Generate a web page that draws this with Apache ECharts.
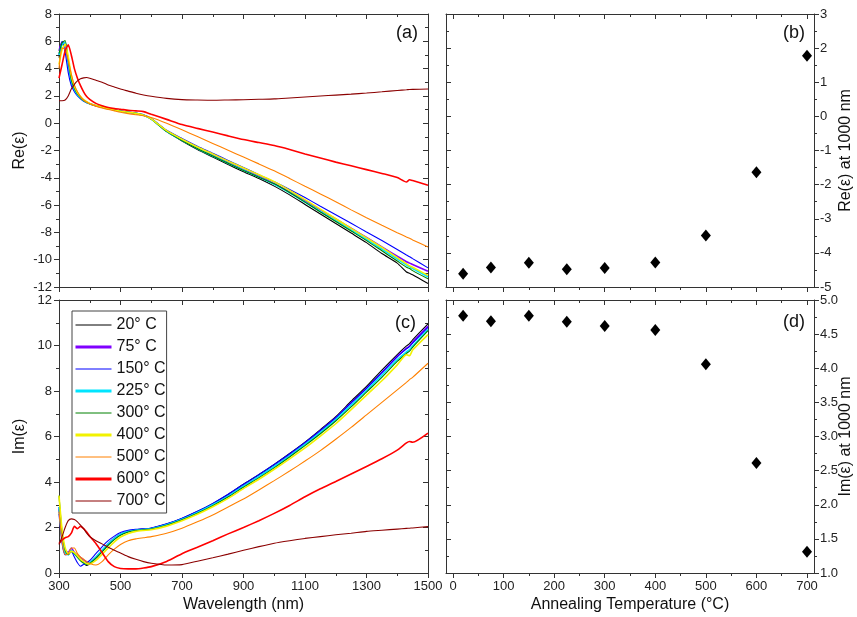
<!DOCTYPE html>
<html><head><meta charset="utf-8">
<script src="https://cdn.jsdelivr.net/npm/echarts@6/dist/echarts.min.js"></script>
<style>html,body{margin:0;padding:0;background:#fff}#c{width:857px;height:617px}</style>
</head><body><div id="c"></div>
<script>
// ---------------- DATA ----------------
const wavelength = [300,310,320,330,340,350,360,370,380,390,400,420,440,460,480,500,525,550,575,600,650,700,750,800,850,900,950,1000,1050,1100,1150,1200,1250,1300,1350,1400,1430,1440,1450,1500];

const seriesNames = ['20° C','75° C','150° C','225° C','300° C','400° C','500° C','600° C','700° C'];

// Re(eps) vs wavelength
const re20  = [4.8,5.8,5.85,4.3,3.1,2.5,2.1,1.85,1.65,1.52,1.42, 1.28,1.17,1.07,0.97,0.88, 0.8,0.72,0.58,0.3, -0.62,-1.3,-1.92,-2.48,-3.03,-3.55,-4.05,-4.61,-5.25,-5.95,-6.65,-7.35,-8.05,-8.75,-9.55,-10.25, -10.9,-11.0,-11.1,-11.75];
const re75  = [5.3,5.95,5.8,4.2,3.0,2.45,2.1,1.85,1.66,1.53,1.43, 1.28,1.17,1.07,0.97,0.88, 0.8,0.72,0.58,0.32, -0.57,-1.22,-1.81,-2.35,-2.88,-3.4,-3.9,-4.43,-5.03,-5.68,-6.35,-7.02,-7.7,-8.37,-9.07,-9.75, -10.15,-10.25,-10.35,-10.85];
const re150 = [5.0,6.0,5.2,3.7,2.75,2.3,2.0,1.78,1.6,1.5,1.42, 1.28,1.17,1.08,0.98,0.9, 0.82,0.74,0.62,0.35, -0.52,-1.12,-1.68,-2.2,-2.73,-3.25,-3.77,-4.29,-4.85,-5.45,-6.08,-6.7,-7.33,-7.97,-8.6,-9.25, -9.65,-9.78,-9.92,-10.6];
const re225 = [5.0,5.8,5.9,4.4,3.1,2.5,2.1,1.85,1.65,1.52,1.42, 1.28,1.17,1.07,0.97,0.88, 0.8,0.72,0.58,0.3, -0.6,-1.26,-1.85,-2.4,-2.93,-3.45,-3.95,-4.48,-5.1,-5.78,-6.47,-7.15,-7.83,-8.52,-9.22,-9.95, -10.4,-10.52,-10.65,-11.25];
const re300 = [5.1,5.9,6.05,4.6,3.2,2.55,2.15,1.87,1.66,1.53,1.43, 1.28,1.17,1.07,0.97,0.88, 0.8,0.72,0.58,0.3, -0.6,-1.27,-1.86,-2.41,-2.94,-3.46,-3.96,-4.44,-5.08,-5.78,-6.5,-7.2,-7.9,-8.6,-9.35,-10.1, -10.55,-10.65,-10.8,-11.4];
const re400 = [4.3,5.4,5.8,4.9,3.5,2.7,2.25,1.95,1.72,1.57,1.45, 1.3,1.18,1.08,0.98,0.88, 0.8,0.72,0.58,0.32, -0.55,-1.17,-1.74,-2.26,-2.78,-3.28,-3.78,-4.28,-4.92,-5.6,-6.3,-7.0,-7.7,-8.4,-9.1,-9.85, -10.3,-10.45,-10.55,-11.15];
const re500 = [4.0,5.5,5.4,4.6,3.6,2.8,2.3,1.95,1.7,1.55,1.42, 1.25,1.12,1.0,0.9,0.8, 0.7,0.62,0.55,0.42, 0.0,-0.48,-0.98,-1.48,-1.98,-2.48,-2.98,-3.49,-4.05,-4.62,-5.18,-5.75,-6.35,-6.92,-7.48,-8.02, -8.33,-8.43,-8.55,-9.07];
const re600 = [3.3,4.3,5.3,5.75,5.0,4.0,3.3,2.75,2.3,1.95,1.75, 1.45,1.28,1.15,1.07,1.02, 0.95,0.9,0.85,0.65, 0.28,-0.1,-0.38,-0.65,-0.93,-1.2,-1.42,-1.64,-1.93,-2.25,-2.55,-2.85,-3.12,-3.4,-3.68,-3.98, -4.31,-4.14,-4.2,-4.55];
const re700 = [1.65,1.65,1.7,2.0,2.5,2.85,3.1,3.25,3.32,3.35,3.3, 3.15,3.0,2.8,2.65,2.5, 2.35,2.2,2.07,1.97, 1.82,1.73,1.7,1.68,1.7,1.72,1.75,1.78,1.85,1.92,1.99,2.06,2.13,2.21,2.3,2.4, 2.45,2.47,2.48,2.5];

// Im(eps) vs wavelength
const im20  = [2.8,1.5,0.9,0.8,1.0,0.85,0.7,0.55,0.42,0.33,0.4, 0.65,0.95,1.25,1.5,1.7, 1.83,1.9,1.93,1.97, 2.15,2.4,2.7,3.05,3.45,3.9,4.32,4.77,5.25,5.75,6.3,6.87,7.55,8.2,8.92,9.6, 9.98,10.08,10.25,10.95];
const im75  = [2.9,1.6,1.0,0.9,1.1,0.9,0.78,0.68,0.58,0.48,0.45, 0.68,0.98,1.28,1.53,1.71, 1.83,1.89,1.92,1.95, 2.12,2.37,2.66,3.0,3.4,3.84,4.25,4.69,5.18,5.7,6.25,6.82,7.48,8.12,8.8,9.52, 9.88,9.98,10.15,10.85];
const im150 = [2.6,1.3,0.8,0.85,0.95,0.7,0.45,0.3,0.38,0.45,0.55, 0.85,1.15,1.42,1.62,1.78, 1.88,1.92,1.94,1.98, 2.16,2.41,2.71,3.06,3.46,3.9,4.33,4.77,5.24,5.74,6.27,6.83,7.48,8.12,8.82,9.5, 9.85,9.95,10.1,10.8];
const im225 = [2.9,1.5,0.9,0.8,1.0,0.85,0.7,0.55,0.45,0.4,0.45, 0.7,1.0,1.28,1.52,1.7, 1.82,1.88,1.91,1.94, 2.12,2.36,2.66,3.0,3.38,3.82,4.24,4.68,5.15,5.65,6.18,6.74,7.38,8.02,8.7,9.38, 9.72,9.82,9.98,10.7];
const im300 = [3.4,1.8,1.0,0.8,0.95,0.85,0.7,0.55,0.45,0.38,0.42, 0.65,0.93,1.22,1.47,1.66, 1.8,1.87,1.9,1.93, 2.1,2.34,2.63,2.96,3.34,3.77,4.18,4.62,5.1,5.6,6.12,6.68,7.3,7.95,8.6,9.3, 9.65,9.75,9.92,10.65];
const im400 = [3.4,1.9,1.1,0.85,0.95,0.9,0.75,0.6,0.5,0.42,0.4, 0.55,0.82,1.1,1.37,1.58, 1.74,1.83,1.87,1.9, 2.06,2.3,2.58,2.91,3.28,3.71,4.12,4.56,5.02,5.5,6.02,6.56,7.18,7.82,8.45,9.15, 9.6,9.55,9.8,10.48];
const im500 = [2.7,1.4,0.8,0.85,1.1,1.1,0.85,0.7,0.6,0.5,0.42, 0.35,0.5,0.8,1.05,1.25, 1.42,1.5,1.55,1.6, 1.75,1.97,2.25,2.55,2.9,3.25,3.65,4.06,4.48,4.92,5.38,5.88,6.4,6.95,7.5,8.05, 8.38,8.5,8.6,9.22];
const im600 = [1.3,1.45,1.55,1.6,1.75,2.05,1.95,2.05,1.95,1.8,1.62, 1.3,0.9,0.5,0.28,0.2, 0.18,0.18,0.22,0.28, 0.51,0.85,1.13,1.42,1.72,2.0,2.3,2.62,2.97,3.35,3.7,4.02,4.35,4.68,5.02,5.4, 5.72,5.78,5.75,6.15];
const im700 = [1.25,1.6,2.0,2.3,2.38,2.35,2.25,2.1,1.95,1.75,1.6, 1.42,1.28,1.13,1.0,0.88, 0.72,0.6,0.5,0.43, 0.35,0.37,0.52,0.67,0.83,1.0,1.16,1.31,1.42,1.52,1.6,1.68,1.75,1.83,1.88,1.93, 1.96,1.97,1.98,2.04];

// Values at 1000 nm vs annealing temperature
const temps     = [20,75,150,225,300,400,500,600,700];
const reAt1000  = [-4.61,-4.43,-4.29,-4.48,-4.44,-4.28,-3.49,-1.64,1.78];
const imAt1000  = [4.77,4.69,4.77,4.68,4.62,4.56,4.06,2.61,1.31];

// ---------------- STYLE ----------------
const reList = [re20,re75,re150,re225,re300,re400,re500,re600,re700];
const imList = [im20,im75,im150,im225,im300,im400,im500,im600,im700];
const colors = ['#000000','#8000ff','#0000ff','#00e5ff','#008000','#f2f200','#ff8000','#ff0000','#8b0000'];
const thick  = [false,true,false,true,false,true,false,true,false];
const FONT = '"Liberation Sans", Arial, sans-serif';
const LINE = '#333';

function axis(gridIndex, position, min, max, interval, o) {
  o = o || {};
  const a = {
    type: 'value', gridIndex, position, min, max, interval,
    show: !o.hidden,
    splitLine: { show: false },
    minorSplitLine: { show: false },
    axisLine: { show: o.line !== false, onZero: false, lineStyle: { color: LINE, width: 1 } },
    axisTick: { show: !!o.ticks, inside: !!o.inside, length: 5, lineStyle: { color: LINE, width: 1 } },
    minorTick: { show: !!o.ticks, splitNumber: 2, length: 3, lineStyle: { color: LINE, width: 1 } },
    axisLabel: { show: !!o.labels, margin: o.margin || 7, fontSize: 13, color: '#222', fontFamily: FONT,
                 formatter: o.formatter || (v => String(v)) },
    nameMoveOverlap: false
  };
  if (o.name) {
    a.name = o.name;
    a.nameLocation = 'middle';
    a.nameGap = o.nameGap;
    if (o.rot) a.nameRotate = 90;
    a.nameTextStyle = { fontSize: 16, color: '#111', fontFamily: FONT };
  }
  return a;
}

const grid = [
  { left: 59,  top: 14,  width: 369, height: 273 },
  { left: 446, top: 14,  width: 368, height: 273 },
  { left: 453, top: 14,  width: 354, height: 273 },
  { left: 59,  top: 300, width: 369, height: 273 },
  { left: 446, top: 300, width: 368, height: 273 },
  { left: 453, top: 300, width: 354, height: 273 }
].map(g => Object.assign({ containLabel: false, outerBoundsMode: 'none', show: false }, g));

const xAxis = [
  axis(0, 'bottom', 300, 1500, 200, { ticks: true }),
  axis(0, 'top', 300, 1500, 200, { ticks: true, inside: true }),
  axis(1, 'bottom', 0, 1, null, {}),
  axis(1, 'top', 0, 1, null, {}),
  axis(2, 'bottom', 0, 700, 100, { line: false, ticks: true }),
  axis(2, 'top', 0, 700, 100, { line: false, ticks: true, inside: true }),
  axis(3, 'bottom', 300, 1500, 200, { ticks: true, labels: true, name: 'Wavelength (nm)', nameGap: 24 }),
  axis(3, 'top', 300, 1500, 200, { ticks: true, inside: true }),
  axis(4, 'bottom', 0, 1, null, {}),
  axis(4, 'top', 0, 1, null, {}),
  axis(5, 'bottom', 0, 700, 100, { line: false, ticks: true, labels: true, name: 'Annealing Temperature (°C)', nameGap: 24 }),
  axis(5, 'top', 0, 700, 100, { line: false, ticks: true, inside: true })
];
const yAxis = [
  axis(0, 'left', -12, 8, 2, { ticks: true, labels: true, name: 'Re(ε)', nameGap: 31, rot: true }),
  axis(0, 'right', -12, 8, 2, { ticks: true, inside: true }),
  axis(1, 'left', -5, 3, 1, { ticks: true, inside: true }),
  axis(1, 'right', -5, 3, 1, { ticks: true, labels: true, margin: 6, name: 'Re(ε) at 1000 nm', nameGap: 24, rot: true }),
  axis(2, 'left', -5, 3, 1, { hidden: true }),
  axis(3, 'left', 0, 12, 2, { ticks: true, labels: true, name: 'Im(ε)', nameGap: 31, rot: true }),
  axis(3, 'right', 0, 12, 2, { ticks: true, inside: true }),
  axis(4, 'left', 1, 5, 0.5, { ticks: true, inside: true }),
  axis(4, 'right', 1, 5, 0.5, { ticks: true, labels: true, margin: 6, formatter: v => v.toFixed(1), name: 'Im(ε) at 1000 nm', nameGap: 24, rot: true }),
  axis(5, 'left', 1, 5, 0.5, { hidden: true })
];

const series = [];
seriesNames.forEach((name, i) => {
  const common = {
    type: 'line', name, symbol: 'none', showSymbol: false, smooth: 0.2,
    lineStyle: { color: colors[i], width: thick[i] ? 1.6 : 1.1 },
    itemStyle: { color: colors[i] }, emphasis: { disabled: true }, z: 2 + i
  };
  series.push(Object.assign({}, common, { xAxisIndex: 0, yAxisIndex: 0, data: wavelength.map((w, k) => [w, reList[i][k]]) }));
  series.push(Object.assign({}, common, { xAxisIndex: 6, yAxisIndex: 5, data: wavelength.map((w, k) => [w, imList[i][k]]) }));
});
series.push({ type: 'scatter', xAxisIndex: 4, yAxisIndex: 4, symbol: 'diamond', symbolSize: [10, 12], clip: false,
  itemStyle: { color: '#000', opacity: 1 }, emphasis: { disabled: true }, z: 20, data: temps.map((t, k) => [t, reAt1000[k]]) });
series.push({ type: 'scatter', xAxisIndex: 10, yAxisIndex: 9, symbol: 'diamond', symbolSize: [10, 12], clip: false,
  itemStyle: { color: '#000', opacity: 1 }, emphasis: { disabled: true }, z: 20, data: temps.map((t, k) => [t, imAt1000[k]]) });

const panelLabel = (text, left, top) => ({ text, left, top, padding: 0,
  textStyle: { fontSize: 18, fontWeight: 'normal', color: '#111', fontFamily: FONT } });

const option = {
  animation: false,
  backgroundColor: '#ffffff',
  title: [panelLabel('(a)', 396, 24), panelLabel('(b)', 783, 24), panelLabel('(c)', 395, 314), panelLabel('(d)', 783, 313)],
  legend: {
    show: true, type: 'plain',
    orient: 'vertical', left: 72, top: 311,
    itemWidth: 36, itemHeight: 14, itemGap: 6,
    padding: [6, 1, 4, 2],
    borderColor: '#444', borderWidth: 1, backgroundColor: '#fff',
    selectedMode: false,
    textStyle: { fontSize: 16, color: '#111', fontFamily: FONT },
    data: seriesNames.map((n, i) => ({ name: n,
      itemStyle: { color: 'rgba(0,0,0,0)', borderWidth: 0, opacity: 0 },
      lineStyle: { color: colors[i], width: thick[i] ? 3 : 1, opacity: 1 } }))
  },
  grid, xAxis, yAxis, series
};

const chart = echarts.init(document.getElementById('c'), null, { renderer: 'canvas' });
chart.setOption(option);
</script></body></html>
